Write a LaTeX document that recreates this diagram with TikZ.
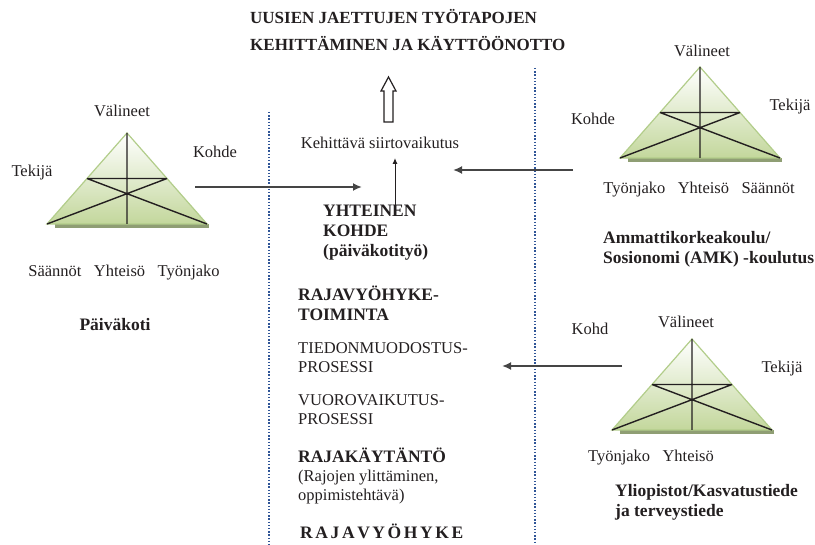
\documentclass[tikz,border=0pt]{standalone}
\usepackage{fontspec}
\setmainfont{Liberation Serif}
\usetikzlibrary{arrows.meta}
% Farben
\definecolor{leafgreen}{HTML}{C3D79C}
\definecolor{leafedge}{HTML}{B2CD8A}
\definecolor{leafshade}{HTML}{8F9E74}
\definecolor{zoneblue}{HTML}{2F5597}
\definecolor{flowgrey}{HTML}{454545}
\definecolor{ink}{HTML}{231F20}
\tikzset{
  lbl/.style={font=\fontsize{16.5}{19.5}\selectfont, text=ink, inner sep=0pt, align=left},
  hd/.style={lbl, font=\fontsize{17.5}{20}\selectfont\bfseries},
  flow/.style={line width=2.2pt, draw=flowgrey, -{Latex[length=9pt,width=8pt]}},
  zone/.style={line width=1.6pt, draw=zoneblue, dash pattern=on 1.5pt off 1.7pt},
  actri/.pic={
    \fill[leafshade] (-72,91) rectangle (82,95);
    \shade[top color=white, bottom color=leafgreen, draw=leafedge, line width=1.2pt]
      (0,0) -- (80,91) -- (-80,91) -- cycle;
    \draw[line width=1.4pt, ink] (0,0) -- (0,91) (-40,45.5) -- (40,45.5)
      (-80,91) -- (40,45.5) (80,91) -- (-40,45.5);
  }
}
\begin{document}
\begin{tikzpicture}[x=1pt,y=-1pt]
\useasboundingbox (0,0) rectangle (815,545);
% Rajavyohyke
\draw[zone] (269,112) -- (269,545);
\draw[zone] (535,68) -- (535,545);
% Paivakoti
\pic at (127,133) {actri};
\node[lbl] (valL) at (122,111) {Välineet};
\node[lbl] (tekL) at (32,173) {Tekijä};
\node[lbl] (kohL) at (215,152) {Kohde};
\node[lbl] (rowL) at (124,273) {Säännöt~~~Yhteisö~~~Työnjako};
\node[hd] (paivakoti) at (115,325) {Päiväkoti};
% AMK
\pic at (700,67) {actri};
\node[lbl] (valR) at (702,51) {Välineet};
\node[lbl] (tekR) at (790,107) {Tekijä};
\node[lbl] (kohR) at (593,119) {Kohde};
\node[lbl] (rowR) at (699,190) {Työnjako~~~Yhteisö~~~Säännöt};
\node[hd, anchor=base west] (amk) at (603,264) {Ammattikorkeakoulu/\\Sosionomi (AMK) -koulutus};
% Yliopisto
\pic at (692,339) {actri};
\node[lbl] (valB) at (686,322) {Välineet};
\node[lbl] (tekB) at (782,369) {Tekijä};
\node[lbl] (kohB) at (590,329) {Kohd};
\node[lbl] (rowB) at (651,458) {Työnjako~~~Yhteisö};
\node[hd, anchor=base west] (yliop) at (615,517) {Yliopistot/Kasvatustiede\\ja terveystiede};
% Keskiosa
\node[hd, anchor=base west, font=\fontsize{17}{27}\selectfont\bfseries] (title) at (250,51)
  {UUSIEN JAETTUJEN TYÖTAPOJEN\\KEHITTÄMINEN JA KÄYTTÖÖNOTTO};
\node[lbl] (siirto) at (380,143) {Kehittävä siirtovaikutus};
\node[hd, anchor=base west] (yhteinen) at (323,257) {YHTEINEN\\KOHDE\\(päiväkotityö)};
\node[hd, anchor=base west] (rvtoim) at (298,321) {RAJAVYÖHYKE-\\TOIMINTA};
\node[lbl, anchor=base west] (tiedon) at (298,373) {TIEDONMUODOSTUS-\\PROSESSI};
\node[lbl, anchor=base west] (vuoro) at (298,425) {VUOROVAIKUTUS-\\PROSESSI};
\node[lbl, anchor=base west] (rajak) at (298,501)
  {\fontsize{17.5}{19}\selectfont\bfseries RAJAKÄYTÄNTÖ\\(Rajojen ylittäminen,\\oppimistehtävä)};
\node[hd, anchor=base west] (rvz) at (300,539) {\spaceskip=2.6pt R A J A V Y Ö H Y K E};
% Nuolet
\coordinate (fromL) at (195,187);
\coordinate (toL) at (362,187);
\coordinate (fromR) at (573,170);
\coordinate (toR) at (453,170);
\coordinate (fromB) at (622,366);
\coordinate (toB) at (502,366);
\coordinate (upS) at (395,205);
\coordinate (upE) at (395,158);
\draw[flow] (fromL) -- (toL);
\draw[flow] (fromR) -- (toR);
\draw[flow] (fromB) -- (toB);
\draw[line width=1pt, ink, -{Latex[length=6pt,width=5pt]}] (upS) -- (upE);
% iso nuoli
\draw[line width=1.2pt, ink, fill=white] (384,122) -- (384,91) -- (381,91) -- (388.5,77)
  -- (396,91) -- (393,91) -- (393,122) -- cycle;
\end{tikzpicture}
\end{document}
